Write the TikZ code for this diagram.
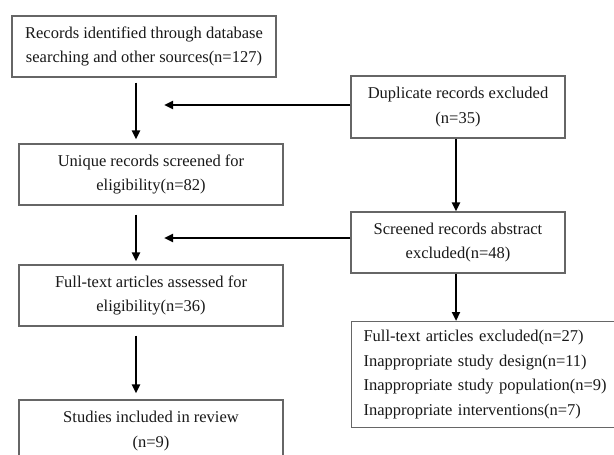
\documentclass[tikz,border=0pt]{standalone}
\usepackage{fontspec}
\setmainfont{Liberation Serif}
\usetikzlibrary{arrows.meta}
\begin{document}
\begin{tikzpicture}[x=1pt,y=-1pt,
  box/.style={draw=black!60,line width=1.1pt,minimum width=264pt,minimum height=61pt,
    inner sep=0pt,align=center,font=\fontsize{16.5}{24.5}\selectfont,text=black!90},
  sbox/.style={box,minimum width=214pt},
  arr/.style={line width=2.6pt,-{Triangle[length=9pt,width=8pt]}}]
\useasboundingbox (0,0) rectangle (614,455);
\clip (0,0) rectangle (614,455);
\fill[white] (0,0) rectangle (614,455);
\node[box] (b1) at (144,46.5) {Records identified through database\\searching and other sources(n=127)};
\node[box] (b2) at (151,174.5) {Unique records screened for\\eligibility(n=82)};
\node[box] (b3) at (151,295.5) {Full-text articles assessed for\\eligibility(n=36)};
\node[box,minimum height=62pt] (b4) at (151,431) {Studies included in review\\(n=9)};
\node[sbox,minimum height=62pt] (d) at (458,107) {Duplicate records excluded\\(n=35)};
\node[sbox] (s) at (458,242.5) {Screened records abstract\\excluded(n=48)};
\node[box,anchor=north west,minimum width=290pt,minimum height=106pt,
  align=left,text width=266pt,inner xsep=12pt] (e) at (351,321)
  {Full-text articles excluded(n=27)\\Inappropriate study design(n=11)\\Inappropriate study population(n=9)\\Inappropriate interventions(n=7)};
\coordinate (h1) at (164,105);
\coordinate (h2) at (164,238);
\coordinate (sx) at ([xshift=-2pt]s.south);
\draw[arr] ([xshift=-8pt,yshift=-5pt]b1.south) -- ([xshift=-15pt,yshift=4pt]b2.north);
\draw[arr] ([xshift=-15pt,yshift=-9pt]b2.south) -- ([xshift=-15pt,yshift=3pt]b3.north);
\draw[arr] ([xshift=-15pt,yshift=-9pt]b3.south) -- ([xshift=-15pt,yshift=6pt]b4.north);
\draw[arr] ([yshift=2pt]d.west) -- (h1);
\draw[arr] ([yshift=4.5pt]s.west) -- (h2);
\draw[arr] ([xshift=-2pt]d.south) -- ([xshift=-2pt]s.north);
\draw[arr] (sx) -- (sx |- e.north);
\end{tikzpicture}
\end{document}
